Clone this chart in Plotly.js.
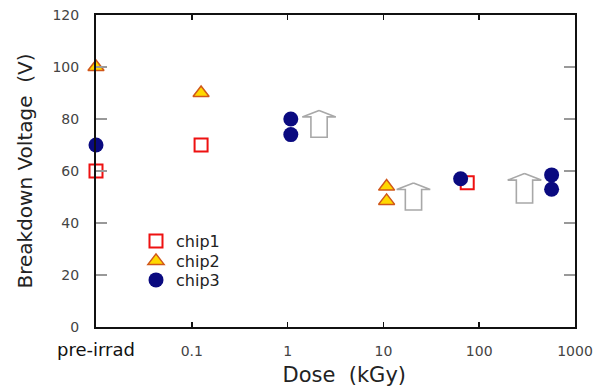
<!DOCTYPE html>
<html>
<head>
<meta charset="utf-8">
<script src="https://cdn.plot.ly/plotly-3.0.1.min.js"></script>
<style>
  html, body { margin: 0; padding: 0; background: #fff; }
  #chart { width: 593px; height: 387px; }
</style>
</head>
<body>
<div id="chart"></div>
<script>
// Breakdown voltage of three chips versus total ionising dose.
// The "pre-irrad" measurement is plotted at 0.01 kGy on the log axis.
const doseChip1 = [0.01, 0.125, 75];
const voltChip1 = [60, 70, 55.5];

const doseChip2 = [0.01, 0.125, 10.8, 10.8];
const voltChip2 = [100, 90, 54, 48.5];

const doseChip3 = [0.01, 1.08, 1.08, 64, 570, 570];
const voltChip3 = [70, 80, 74, 57, 58.5, 53];

// Open arrows marking "still above this value" at the listed doses.
const arrowDose = [2.13, 20.6, 297];
const arrowBase = [73, 45, 47.7];
const arrowTop = [83.3, 55.4, 59];

const xTickVals = [0.01, 0.1, 1, 10, 100, 1000];
const xTickText = ["pre-irrad", "0.1", "1", "10", "100", "1000"];
const yTickVals = [0, 20, 40, 60, 80, 100, 120];

const FONT = "DejaVu Sans, Arial, sans-serif";
const GAP = "\u00a0\u00a0";
// leading pad nudges the x title a little right of the plot centre
const LEAD = "\u200b\u00a0\u00a0\u2009";

// Build the block-arrow outlines in log-x / linear-y data space.
function arrowOutline() {
  const headHalf = 0.175, stemHalf = 0.085, wing = 2.5;
  const xs = [], ys = [];
  for (let i = 0; i < arrowDose.length; i++) {
    const c = Math.log10(arrowDose[i]);
    const top = arrowTop[i], base = arrowBase[i], shoulder = top - wing;
    const pts = [
      [c, top], [c + headHalf, shoulder], [c + stemHalf, shoulder],
      [c + stemHalf, base], [c - stemHalf, base], [c - stemHalf, shoulder],
      [c - headHalf, shoulder], [c, top]
    ];
    pts.forEach(p => { xs.push(Math.pow(10, p[0])); ys.push(p[1]); });
    xs.push(null); ys.push(null);
  }
  return { xs, ys };
}
const arrows = arrowOutline();

const traces = [
  {
    x: arrows.xs, y: arrows.ys, type: "scatter", mode: "lines",
    line: { color: "#a8a8a8", width: 1.6 },
    showlegend: false, hoverinfo: "skip", cliponaxis: false
  },
  {
    name: "chip1", x: doseChip1, y: voltChip1, type: "scatter", mode: "markers",
    marker: { symbol: "square-open", size: 13, color: "#ee1111", line: { width: 2, color: "#ee1111" } },
    cliponaxis: false, legend: "legend"
  },
  {
    name: "chip2", x: doseChip2, y: voltChip2, type: "scatter", mode: "markers",
    marker: { symbol: "triangle-up", size: 14, color: "#ffd800", line: { width: 1.5, color: "#d0571a" } },
    cliponaxis: false, legend: "legend2"
  },
  {
    name: "chip3", x: doseChip3, y: voltChip3, type: "scatter", mode: "markers",
    marker: { symbol: "circle", size: 15, color: "#0a0a80" },
    cliponaxis: false, legend: "legend3"
  }
];

function legendAt(yPaper) {
  return {
    x: 0.0835, xanchor: "left", y: yPaper, yanchor: "middle",
    bgcolor: "rgba(0,0,0,0)", borderwidth: 0,
    font: { family: FONT, size: 16, color: "#222" }
  };
}

const layout = {
  width: 593, height: 387,
  margin: { l: 96, r: 18, t: 15, b: 60 },
  paper_bgcolor: "#fff", plot_bgcolor: "#fff",
  font: { family: FONT, color: "#222" },
  showlegend: true,
  legend: legendAt(0.2756),
  legend2: legendAt(0.2115),
  legend3: legendAt(0.1506),
  xaxis: {
    type: "log", range: [-2, 3],
    tickmode: "array", tickvals: xTickVals,
    ticktext: xTickText.map((t, i) => i === 0 ? "<span style='font-size:18px;fill:#111'>" + t + "</span>" : t),
    ticks: "inside", ticklen: 5, tickwidth: 1.5, tickcolor: "#111",
    tickfont: { family: FONT, size: 14, color: "#444" },
    ticklabelstandoff: 10,
    showline: true, linecolor: "#111", linewidth: 2, mirror: "ticks",
    showgrid: false, zeroline: false, automargin: false,
    title: { text: LEAD + "Dose" + GAP + "(kGy)", font: { family: FONT, size: 21, color: "#222" }, standoff: 10 }
  },
  yaxis: {
    range: [0, 120], tickmode: "array", tickvals: yTickVals,
    ticks: "inside", ticklen: 11, tickwidth: 1.5, tickcolor: "#999",
    tickfont: { family: FONT, size: 14, color: "#444" },
    ticklabelstandoff: 12,
    showline: true, linecolor: "#111", linewidth: 2, mirror: "ticks",
    showgrid: false, zeroline: false, automargin: false,
    title: { text: "Breakdown Voltage" + GAP + "(V)", font: { family: FONT, size: 20, color: "#222" }, standoff: 14 }
  }
};

Plotly.newPlot("chart", traces, layout, { staticPlot: true, displayModeBar: false });
</script>
</body>
</html>
